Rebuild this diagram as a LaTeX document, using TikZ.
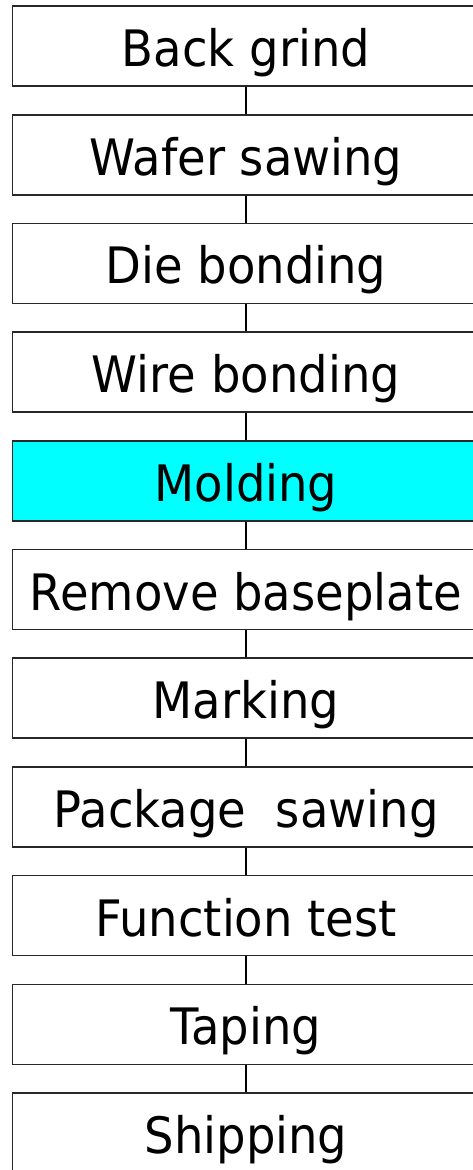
\documentclass[tikz,border=0pt]{standalone}
\usepackage{fontspec}
\setmainfont{DejaVu Sans}
\definecolor{boxline}{RGB}{40,40,40}
\definecolor{molding}{RGB}{0,255,255}
\newcommand{\stxt}[1]{\scalebox{1}[1.08]{#1}}
\begin{document}
\begin{tikzpicture}[x=1pt,y=-1pt,
  stepbox/.style={draw=boxline,line width=1.6pt,fill=white,minimum width=467pt,minimum height=80pt,inner sep=0pt,text height=41pt,text depth=0pt,font=\fontsize{46.5}{50}\selectfont},
  link/.style={draw=black,line width=1.8pt}]
\useasboundingbox (0,0) rectangle (473,1170);
\node[stepbox] (s1) at (246,46) {\stxt{Back grind}};
\node[stepbox] (s2) at (246,154.7) {\stxt{Wafer sawing}};
\node[stepbox] (s3) at (246,263.4) {\stxt{Die bonding}};
\node[stepbox] (s4) at (246,372.1) {\stxt{Wire bonding}};
\node[stepbox,fill=molding] (s5) at (246,480.8) {\stxt{Molding}};
\node[stepbox] (s6) at (246,589.5) {\stxt{Remove baseplate}};
\node[stepbox] (s7) at (246,698.2) {\stxt{Marking}};
\node[stepbox] (s8) at (246,806.9) {\stxt{Package\ \ sawing}};
\node[stepbox] (s9) at (246,915.6) {\stxt{Function test}};
\node[stepbox] (s10) at (246,1024.3) {\stxt{Taping}};
\node[stepbox] (s11) at (246,1133) {\stxt{Shipping}};
\foreach \a/\b in {s1/s2,s2/s3,s3/s4,s4/s5,s5/s6,s6/s7,s7/s8,s8/s9,s9/s10,s10/s11}
  \draw[link] (\a.south) -- (\b.north);
\end{tikzpicture}
\end{document}
